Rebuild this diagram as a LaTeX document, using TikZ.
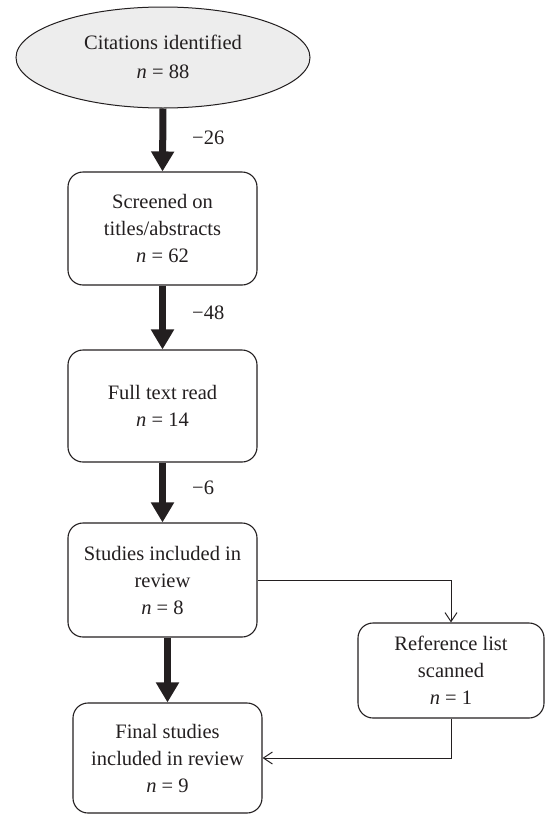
\documentclass[tikz,border=0pt]{standalone}
\usepackage{fontspec}
\setmainfont{Liberation Serif}
\usetikzlibrary{shapes.geometric,arrows.meta}
\definecolor{ink}{HTML}{231F20}
\begin{document}
\begin{tikzpicture}[x=1pt,y=-1pt,
  every node/.style={text=ink, font=\fontsize{20.5}{27}\selectfont, align=center, inner sep=0pt},
  stepbox/.style={draw=ink, line width=1.1pt, rounded corners=15pt, rectangle},
  startell/.style={draw=ink, line width=1pt, fill=black!7, ellipse},
  bigarrow/.style={draw=ink, line width=7pt, -{Triangle[width=22pt,length=20pt]}, shorten >=0pt},
  thinarrow/.style={draw=ink, line width=1pt, -{Straight Barb[length=9pt,width=12pt]}},
  cutlabel/.style={anchor=west}
]
\useasboundingbox (0,0) rectangle (544,814);
\node[startell, minimum width=294pt, minimum height=101pt] (e1) at (163,57.5) {};
\node at (163,42) {Citations identified};
\node at (163,72) {\textit{n} = 88};

\node[stepbox, minimum width=189pt, minimum height=113pt] (b2) at (162.5,228.5)
  {Screened on\\titles/abstracts\\\textit{n} = 62};
\node[stepbox, minimum width=189pt, minimum height=112pt] (b3) at (162.5,406)
  {Full text read\\\textit{n} = 14};
\node[stepbox, minimum width=189pt, minimum height=114pt] (b4) at (162.5,580)
  {Studies included in\\review\\\textit{n} = 8};
\node[stepbox, minimum width=186pt, minimum height=95pt] (b5) at (451,670.5)
  {Reference list\\scanned\\\textit{n} = 1};
\node[stepbox, minimum width=189pt, minimum height=110pt] (b6) at (167.5,758)
  {Final studies\\included in review\\\textit{n} = 9};

\draw[bigarrow] (e1.south) -- (b2.north);
\draw[bigarrow] (b2.south) -- (b3.north);
\draw[bigarrow] (b3.south) -- (b4.north);
\draw[bigarrow] (b4.south -| b6.north) -- (b6.north);

\node[cutlabel] (l1) at (192,138) {−26};
\node[cutlabel] (l2) at (192,313) {−48};
\node[cutlabel] (l3) at (192,488) {−6};

\draw[thinarrow] (b4.east) -| (b5.north);
\draw[thinarrow] (b5.south) |- (b6.east);
\end{tikzpicture}
\end{document}
